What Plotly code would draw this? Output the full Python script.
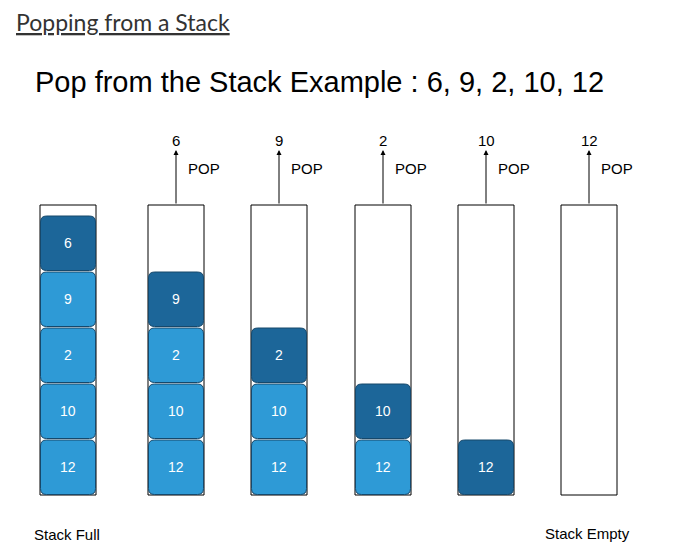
import plotly.graph_objects as go

values = [6, 9, 2, 10, 12]          # stack contents, top to bottom
popped = ["6", "9", "2", "10", "12"]
title_top = "Popping from a Stack"
title_main = "Pop from the Stack Example : 6, 9, 2, 10, 12"

W, H = 692, 551
OFF = 8  # page body margin
col_left = [c - OFF for c in [40, 148, 251, 355, 458, 561]]
col_w = 56
col_top, col_bot = 205 - OFF, 495 - OFF
blk_h = 56
dark, light = "#1c6699", "#2e9ad6"

def rrect(x0, y0, x1, y1, r=6):
    return (f"M{x0+r},{y0} L{x1-r},{y0} Q{x1},{y0} {x1},{y0+r} L{x1},{y1-r} "
            f"Q{x1},{y1} {x1-r},{y1} L{x0+r},{y1} Q{x0},{y1} {x0},{y1-r} "
            f"L{x0},{y0+r} Q{x0},{y0} {x0+r},{y0} Z")

fig = go.Figure()
shapes, ann = [], []
for i, xl in enumerate(col_left):
    shapes.append(dict(type="rect", x0=xl, x1=xl + col_w, y0=col_top, y1=col_bot,
                       line=dict(color="black", width=1), fillcolor="white"))
    stack = values[i:]
    n = len(stack)
    for j, v in enumerate(stack):
        y1 = col_bot - (n - 1 - j) * blk_h
        y0 = y1 - blk_h
        shapes.append(dict(type="path", path=rrect(xl + 0.5, y0 + 1, xl + col_w - 0.5, y1 - 0.5),
                           fillcolor=dark if j == 0 else light,
                           line=dict(color="#16486b", width=1)))
        ann.append(dict(x=xl + col_w / 2, y=(y0 + y1) / 2, text=str(v), showarrow=False,
                        font=dict(color="white", size=14, family="Liberation Sans")))
    if i > 0:
        cx = xl + col_w / 2
        ann.append(dict(x=cx, y=150 - OFF, ax=cx, ay=col_top, xref="x", yref="y", axref="x", ayref="y",
                        text="", showarrow=True, arrowhead=2, arrowsize=1, arrowwidth=1,
                        arrowcolor="black"))
        ann.append(dict(x=cx, y=140 - OFF, text=popped[i - 1], showarrow=False,
                        font=dict(size=15, color="black", family="Liberation Sans")))
        ann.append(dict(x=cx + 10, y=168 - OFF, text="POP", showarrow=False, xanchor="left",
                        font=dict(size=15, color="black", family="Liberation Sans")))

ann.append(dict(x=14 - OFF, y=22 - OFF, text=f"<u>{title_top}</u>", showarrow=False, xanchor="left",
                font=dict(size=23, color="#333333", family="Lato")))
ann.append(dict(x=33 - OFF, y=82 - OFF, text=title_main, showarrow=False, xanchor="left",
                font=dict(size=29, color="black", family="Liberation Sans")))
ann.append(dict(x=32 - OFF, y=534 - OFF, text="Stack Full", showarrow=False, xanchor="left",
                font=dict(size=15, color="black", family="Liberation Sans")))
ann.append(dict(x=543 - OFF, y=533 - OFF, text="Stack Empty", showarrow=False, xanchor="left",
                font=dict(size=15, color="black", family="Liberation Sans")))

fig.update_layout(width=W, height=H, margin=dict(l=0, r=0, t=0, b=0),
                  paper_bgcolor="white", plot_bgcolor="white",
                  shapes=shapes, annotations=ann, showlegend=False,
                  xaxis=dict(range=[0, W], visible=False, fixedrange=True),
                  yaxis=dict(range=[H, 0], visible=False, fixedrange=True))
fig.write_html("out.html", config={"displayModeBar": False})
